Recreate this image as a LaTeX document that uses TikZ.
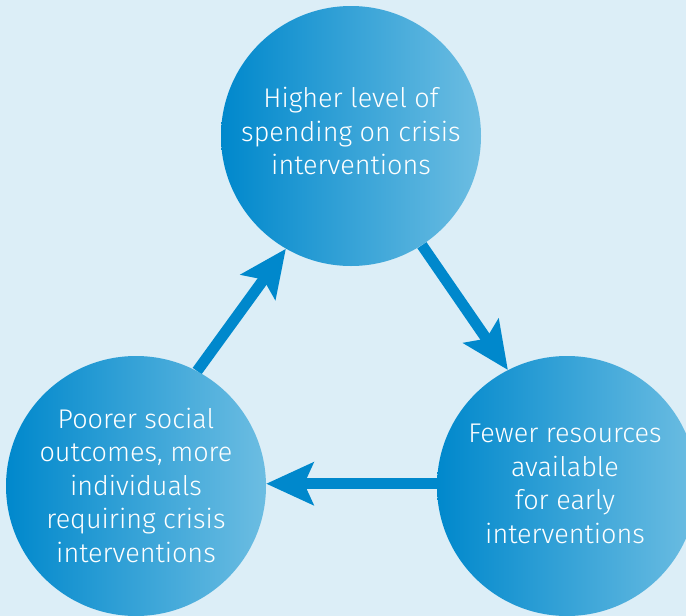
\documentclass[tikz,border=0pt]{standalone}
\usepackage{fontspec}
\setmainfont{Fira Sans}[UprightFont=* Light]
\usetikzlibrary{arrows.meta,backgrounds}
\definecolor{bgblue}{HTML}{DCEEF7}
\definecolor{darkblue}{HTML}{0088CC}
\definecolor{lightblue}{HTML}{6CBDE2}
\definecolor{arrowblue}{HTML}{0088CC}
\tikzset{
  stage/.style={circle, minimum size=260pt, inner sep=0pt, shading=axis,
    left color=darkblue, right color=lightblue},
  stagetext/.style={text=white, align=center, inner sep=0pt,
    font=\fontsize{27}{33.5}\selectfont},
  flow/.style={draw=arrowblue, line width=11pt,
    -{Stealth[length=47pt, width=42pt, inset=9pt]}}
}
\begin{document}
\begin{tikzpicture}[x=1pt,y=-1pt]
\useasboundingbox (0,0) rectangle (686,616);
\node[stage] (top) at (351,136) {};
\node[stage] (left) at (136,486) {};
\node[stage] (right) at (567,486) {};
\node[stagetext] (toptext) at ([yshift=5pt]top.center) {Higher level of\\spending on crisis\\interventions};
\node[stagetext] (lefttext) at ([yshift=1pt]left.center) {Poorer social\\outcomes, more\\individuals\\requiring crisis\\interventions};
\node[stagetext] (righttext) at ([xshift=-2pt,yshift=2pt]right.center) {Fewer resources\\available\\for early\\interventions};
\begin{scope}[on background layer]
  \fill[bgblue] (0,0) rectangle (686,616);
  \draw[flow] (left.62) -- (top.240);
  \draw[flow] (top.303) -- (right.117);
  \draw[flow] (right.179) -- (left.1);
\end{scope}
\end{tikzpicture}
\end{document}
